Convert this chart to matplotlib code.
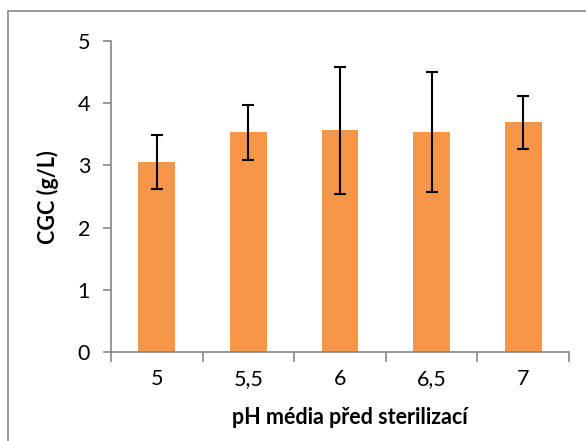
import matplotlib
matplotlib.use("Agg")
import matplotlib.pyplot as plt
from matplotlib.patches import Rectangle
import numpy as np

categories = ["5", "5,5", "6", "6,5", "7"]
values = [3.05, 3.53, 3.56, 3.54, 3.69]
errors = [0.43, 0.44, 1.02, 0.96, 0.43]
yticks = [0, 1, 2, 3, 4, 5]

plt.rcParams['font.family'] = ['Lato', 'DejaVu Sans']

W, H = 586, 441
fig = plt.figure(figsize=(W/100, H/100), dpi=100)
# outer frame
fig.patches.append(Rectangle((8/W, -0.1), 1.2, (H-11)/H + 0.1, transform=fig.transFigure,
                             fill=False, edgecolor='#898989', linewidth=1.2))

ax = fig.add_axes([111/W, 1-352.3/H, (569-111)/W, (352.3-40.7)/H])
x = np.arange(len(categories))
ax.bar(x, values, width=0.4, color='#F79646', zorder=2)
ax.errorbar(x, values, yerr=errors, fmt='none', ecolor='black', elinewidth=1.5,
            capsize=4, capthick=1.5, zorder=3)

ax.set_xlim(-0.5, len(categories)-0.5)
ax.set_ylim(0, 5)
ax.set_yticks(yticks)
ax.set_yticklabels([str(t) for t in yticks], fontsize=15.5)
ax.set_xticks(x)
ax.set_xticklabels(categories, fontsize=15.5)
ax.set_xticks(np.arange(-0.5, len(categories), 1), minor=True)
ax.tick_params(axis='x', which='major', length=0, pad=12)
ax.tick_params(axis='x', which='minor', length=7, color='#868686', width=1.2)
ax.tick_params(axis='y', length=6, color='#868686', width=1.2, pad=9)

for s in ['top', 'right']:
    ax.spines[s].set_visible(False)
for s in ['left', 'bottom']:
    ax.spines[s].set_color('#868686')
    ax.spines[s].set_linewidth(1.2)

fig.text(350/W, 1-418/H, "pH média před sterilizací", ha='center', va='center',
         fontsize=15.5, fontweight='bold')
fig.text(48/W, 1-197/H, "CGC (g/L)", ha='center', va='center', rotation=90,
         fontsize=15.5, fontweight='bold')

fig.savefig("out.png", dpi=100)
